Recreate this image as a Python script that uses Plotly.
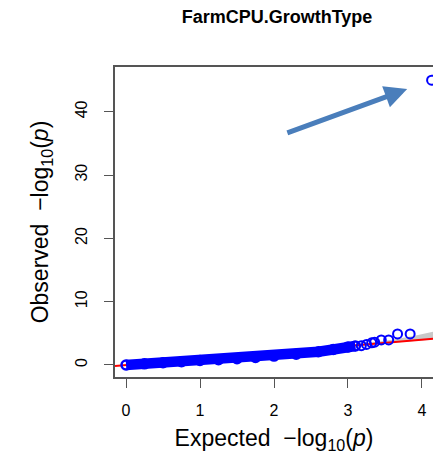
import plotly.graph_objects as go

# ---- data ----
title_text = "FarmCPU.GrowthType"

# dense part of the QQ curve (expected, observed)
dense_expected = [0.0, 0.25, 0.5, 0.75, 1.0, 1.25, 1.5, 1.75, 2.0, 2.3, 2.6, 2.8, 3.0, 3.1]
dense_observed = [0.0, 0.18, 0.35, 0.52, 0.7, 0.82, 1.0, 1.2, 1.4, 1.7, 2.1, 2.45, 2.85, 3.0]

# sparse tail points
tail_expected = [3.18, 3.25, 3.32, 3.36, 3.45, 3.55, 3.67, 3.84, 4.13]
tail_observed = [3.05, 3.25, 3.5, 3.6, 3.95, 3.95, 4.9, 4.9, 45.0]

# confidence band
band_x = [2.5, 3.0, 3.3, 3.6, 3.9, 4.2]
band_upper = [2.6, 3.15, 3.55, 4.0, 4.6, 5.4]
band_lower = [2.45, 2.95, 3.25, 3.55, 3.8, 4.05]

x_range = [-0.149, 4.149]
y_range = [-1.9, 47.08]
x_ticks = [0, 1, 2, 3, 4]
y_ticks = [0, 10, 20, 30, 40]

# arrow (tail -> tip) in data units
arrow_tail = (2.16, 36.6)
arrow_tip = (3.80, 43.6)

BLUE = "#0000FF"
FONT = "Liberation Sans, Arial, Helvetica, sans-serif"
AXC = "#555555"

fig = go.Figure()

# confidence band
fig.add_trace(go.Scatter(
    x=band_x + band_x[::-1], y=band_upper + band_lower[::-1],
    fill="toself", fillcolor="#C8C8C8", line=dict(width=0),
    mode="lines", hoverinfo="skip", showlegend=False))

# y = x reference
fig.add_trace(go.Scatter(
    x=x_range, y=x_range, mode="lines",
    line=dict(color="red", width=2), showlegend=False))

# dense band
fig.add_trace(go.Scatter(
    x=dense_expected, y=dense_observed, mode="lines+markers",
    line=dict(color=BLUE, width=10.5),
    marker=dict(symbol="circle-open", size=9, color=BLUE, line=dict(width=2.5)),
    showlegend=False))

# tail points
fig.add_trace(go.Scatter(
    x=tail_expected, y=tail_observed, mode="markers",
    marker=dict(symbol="circle-open", size=9, color=BLUE, line=dict(width=2)),
    showlegend=False))

fig.add_annotation(
    x=arrow_tip[0], y=arrow_tip[1], ax=arrow_tail[0], ay=arrow_tail[1],
    xref="x", yref="y", axref="x", ayref="y",
    text="", showarrow=True, arrowhead=2, arrowsize=0.9, arrowwidth=5,
    arrowcolor="#4A7EBB", standoff=0)

fig.update_layout(
    width=433, height=455,
    margin=dict(l=115, r=0, t=67, b=78, autoexpand=False),
    paper_bgcolor="white", plot_bgcolor="white",
    font=dict(family=FONT, color="black"),
    title=dict(text="<b>" + title_text + "</b>", x=277 / 433, xref="container",
               xanchor="center", y=1 - 17 / 455, yref="container", yanchor="middle",
               font=dict(size=18, family=FONT)),
    xaxis=dict(range=x_range, tickvals=x_ticks, showgrid=False, zeroline=False,
               automargin=False,
               showline=True, linecolor=AXC, linewidth=1.5, mirror=True,
               ticks="outside", ticklen=9, tickcolor=AXC, tickwidth=1.2,
               tickfont=dict(size=16), ticklabelstandoff=9,
               title=dict(text="Expected  \u2212log<sub>10</sub>(<i>p</i>)",
                          font=dict(size=23), standoff=12)),
    yaxis=dict(range=y_range, tickvals=y_ticks, showgrid=False, zeroline=False,
               automargin=False,
               showline=True, linecolor=AXC, linewidth=1.5, mirror=False,
               ticks="outside", ticklen=9, tickcolor=AXC, tickwidth=1.2,
               tickangle=-90, tickfont=dict(size=16), ticklabelstandoff=11,
               title=dict(text="Observed  \u2212log<sub>10</sub>(<i>p</i>)",
                          font=dict(size=23), standoff=18)),
)

fig.write_html("out.html",
               config={"displayModeBar": False},
               post_script="document.body.style.margin='0';document.body.style.overflow='hidden';")
